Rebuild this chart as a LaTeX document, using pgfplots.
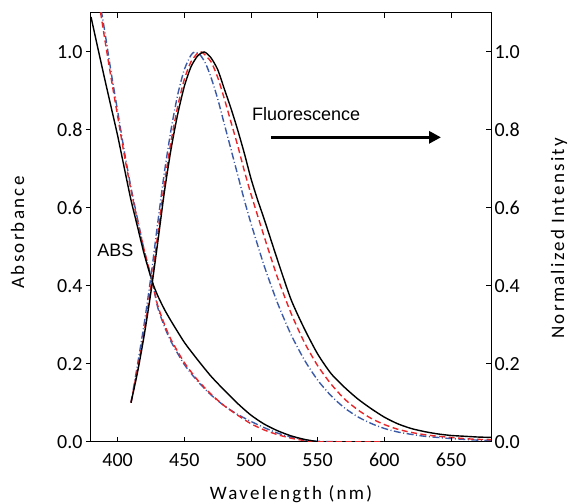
\documentclass[border=0pt]{standalone}
\usepackage{fontspec}
\setmainfont{Carlito}
\newfontfamily\arialfont{Liberation Sans}
\usepackage{pgfplots}
\usepackage{pgfplotstable}
\pgfplotsset{compat=1.18}
\usetikzlibrary{arrows.meta}

\definecolor{specred}{HTML}{E8262A}
\definecolor{specblue}{HTML}{3B5BA8}

% absorbance spectra
\pgfplotstableread{
x y
380 1.090
385 1.012
390 0.935
395 0.860
400 0.785
405 0.702
410 0.620
415 0.550
420 0.480
426 0.410
430 0.375
435 0.340
440 0.310
450 0.255
460 0.210
470 0.168
480 0.132
490 0.098
500 0.068
510 0.045
520 0.028
530 0.015
540 0.006
550 0.000
}\absblack
\pgfplotstableread{
x y
385 1.150
390 1.040
395 0.935
400 0.835
405 0.735
410 0.645
415 0.565
420 0.490
426 0.410
430 0.350
435 0.302
440 0.262
450 0.203
460 0.158
470 0.122
480 0.092
490 0.068
500 0.046
510 0.030
520 0.018
530 0.009
540 0.003
550 0.000
600 0.000
}\absred
\pgfplotstableread{
x y
386 1.140
390 1.060
395 0.950
400 0.848
405 0.745
410 0.652
415 0.570
420 0.490
426 0.410
430 0.345
435 0.296
440 0.257
450 0.198
460 0.155
470 0.120
480 0.092
490 0.070
500 0.052
510 0.036
520 0.022
530 0.012
540 0.005
550 0.001
565 0.000
}\absblue

% fluorescence spectra
\pgfplotstableread{
x y
410 0.100
415 0.180
420 0.275
425 0.385
430 0.510
435 0.640
440 0.750
445 0.840
450 0.912
455 0.962
460 0.990
465 1.000
470 0.985
475 0.955
480 0.905
485 0.855
490 0.800
495 0.740
500 0.675
505 0.620
510 0.570
520 0.465
530 0.365
540 0.290
550 0.225
560 0.175
570 0.140
580 0.110
590 0.085
600 0.063
610 0.046
620 0.034
630 0.026
640 0.020
650 0.016
660 0.014
670 0.012
680 0.011
}\flblack
\pgfplotstableread{
x y
410 0.100
415 0.188
420 0.285
425 0.400
430 0.530
435 0.660
440 0.770
445 0.860
450 0.930
455 0.975
460 0.997
463 1.000
470 0.975
475 0.935
480 0.880
485 0.820
490 0.760
495 0.695
500 0.635
510 0.525
520 0.420
530 0.330
540 0.255
550 0.195
560 0.148
570 0.110
580 0.082
590 0.060
600 0.044
610 0.032
620 0.024
630 0.018
640 0.014
650 0.011
660 0.008
670 0.006
680 0.005
}\flred
\pgfplotstableread{
x y
410 0.100
415 0.200
420 0.305
425 0.425
430 0.560
435 0.690
440 0.800
445 0.890
450 0.955
455 0.992
458 1.000
462 0.992
466 0.970
470 0.935
475 0.880
480 0.815
485 0.750
490 0.685
495 0.620
500 0.560
510 0.450
520 0.355
530 0.275
540 0.210
550 0.158
560 0.118
570 0.087
580 0.064
590 0.047
600 0.034
610 0.025
620 0.019
630 0.014
640 0.011
650 0.008
660 0.006
670 0.004
680 0.003
}\flblue

\begin{document}
\begin{tikzpicture}
\pgfplotsset{
    every axis/.append style={
        width=400bp, height=428.7bp, scale only axis,
        xmin=380, xmax=680, ymin=0, ymax=1.1,
        xtick={400,450,500,550,600,650},
        ytick={0,0.2,0.4,0.6,0.8,1.0},
        /pgf/number format/assume math mode=true,
        yticklabel style={/pgf/number format/.cd, fixed, fixed zerofill, precision=1},
        ticklabel style={font=\fontsize{20bp}{24bp}\selectfont},
        label style={font=\fontsize{19bp}{23bp}\selectfont\addfontfeature{LetterSpace=12}},
        major tick length=5bp,
        axis line style={line width=1bp},
        every tick/.style={black, line width=1bp},
    },
    black line/.style={black, line width=1.4bp, smooth, tension=0.4},
    red line/.style={specred, line width=1.4bp, smooth, tension=0.4, dash pattern=on 6bp off 3.5bp},
    blue line/.style={specblue, line width=1.4bp, smooth, tension=0.4, dash pattern=on 7bp off 2.5bp on 1bp off 2.5bp},
}

\begin{axis}[
        name=main,
        ytick pos=left,
        tick align=outside,
        xtick style={draw=none},
        xticklabel style={yshift=-3bp},
        xlabel={Wavelength (nm)},
        ylabel={Absorbance},
        xlabel style={at={(axis description cs:0.5,0)}, anchor=base, yshift=-58bp},
        % label is rotated: yshift moves it sideways, xshift up/down
        ylabel style={at={(axis description cs:0,0.5)}, anchor=center, yshift=73.5bp, xshift=-5bp},
    ]
    \addplot[blue line] table {\absblue};
    \addplot[red line] table {\absred};
    \addplot[black line] table {\absblack};
    \addplot[blue line] table {\flblue};
    \addplot[red line] table {\flred};
    \addplot[black line] table {\flblack};

    \node[font=\arialfont\fontsize{18bp}{21bp}\selectfont, anchor=west, inner sep=0pt] at (axis cs:500.7,0.84) {Fluorescence};
    \node[font=\arialfont\fontsize{18bp}{21bp}\selectfont, anchor=west, inner sep=0pt] at (axis cs:384.7,0.49) {ABS};
    \draw[line width=3.2bp, -{Triangle[length=12bp, width=12bp]}] (axis cs:514.9,0.781) -- (axis cs:642.5,0.781);
\end{axis}

\begin{axis}[
        axis line style={draw=none},
        ytick pos=right,
        yticklabel pos=right,
        xtick pos=both,
        xticklabels={},
        tick align=inside,
        ylabel={Normalized Intensity},
        ylabel style={at={(axis description cs:1,0.5)}, anchor=center, yshift=-68bp, xshift=-11bp},
    ]
\end{axis}

\pgfresetboundingbox
\path ([xshift=-91bp, yshift=-62.3bp]main.south west) rectangle ([xshift=78bp, yshift=13bp]main.north east);
\end{tikzpicture}
\end{document}
